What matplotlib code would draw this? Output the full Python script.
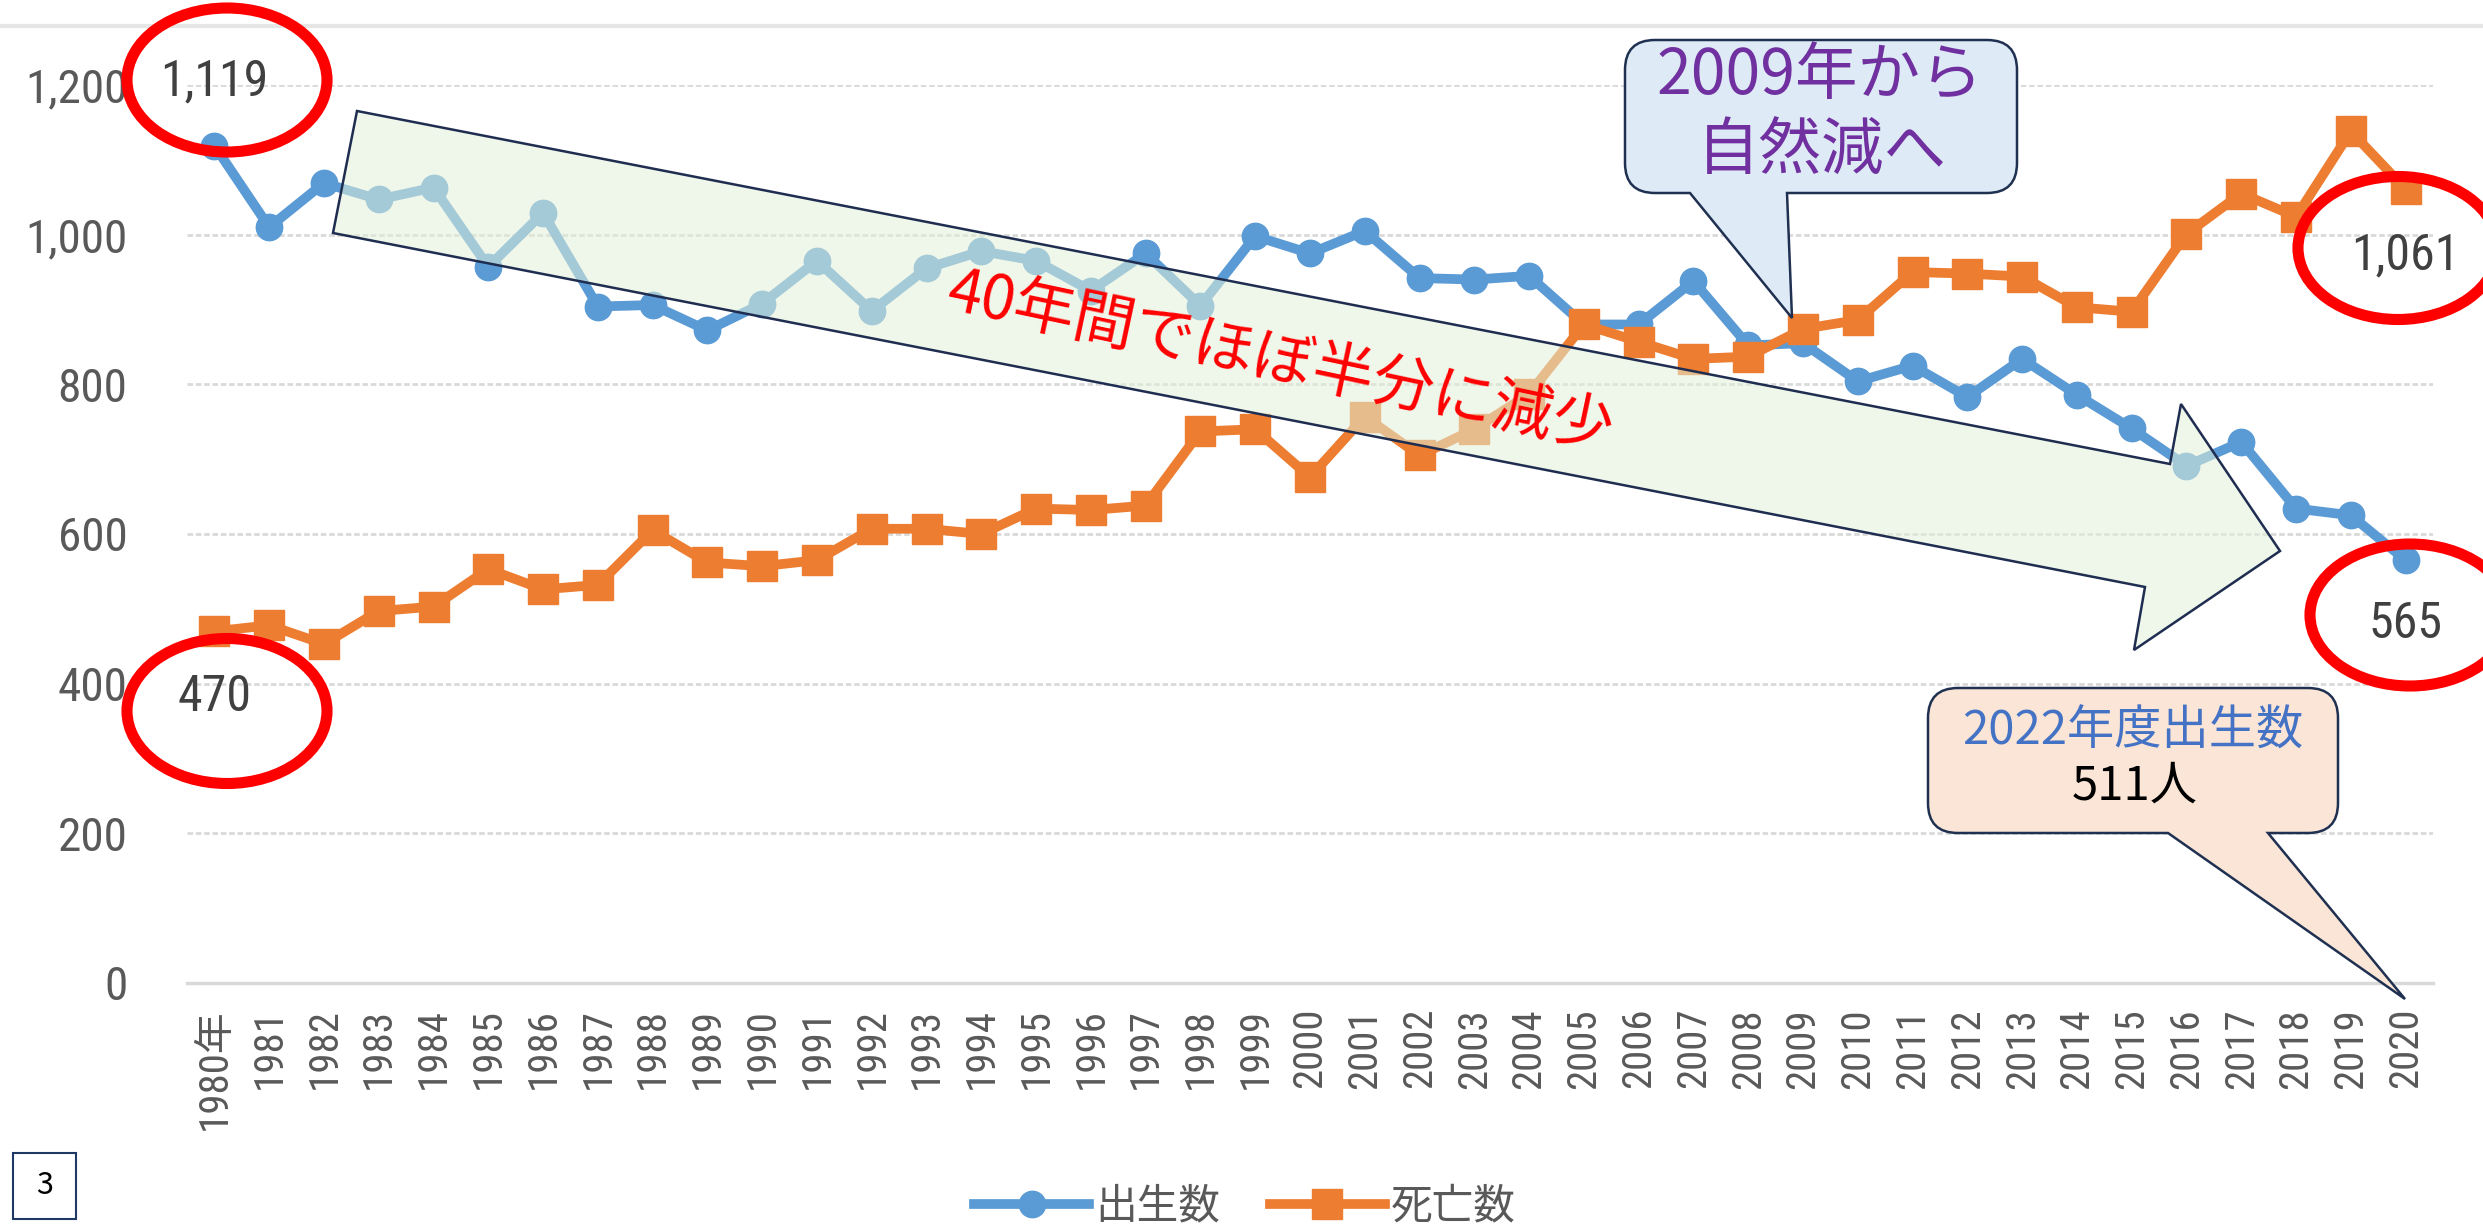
import numpy as np
import matplotlib
matplotlib.use('Agg')
import matplotlib.pyplot as plt
from matplotlib import font_manager
from matplotlib.patches import Ellipse, Polygon, PathPatch, Rectangle
from matplotlib.path import Path
from matplotlib.lines import Line2D
from matplotlib.colors import to_rgba

# データ(人)
years = list(range(1980, 2021))
births = [1119, 1010, 1069, 1047, 1063, 957, 1029, 904, 906, 872,
          908, 965, 898, 955, 978, 965, 925, 975, 905, 998,
          975, 1005, 942, 940, 945, 880, 880, 938, 852, 855,
          804, 825, 783, 834, 786, 741, 691, 723, 634, 625, 565]
deaths = [470, 478, 453, 497, 503, 553, 526, 532, 605, 562,
          557, 565, 607, 607, 600, 634, 632, 638, 737, 740,
          676, 757, 705, 740, 787, 880, 857, 834, 837, 874,
          886, 950, 948, 944, 903, 897, 1001, 1055, 1024, 1138, 1061]
xlabels = ['1980年'] + [str(y) for y in years[1:]]
yticks = [0, 200, 400, 600, 800, 1000, 1200]
series_names = ['出生数', '死亡数']

# 細めのフォントがあれば使う
narrow = None
for name in ['Liberation Sans Narrow', 'Roboto Condensed', 'Open Sans Condensed',
             'DejaVu Sans Condensed', 'Noto Sans Condensed']:
    try:
        font_manager.findfont(font_manager.FontProperties(family=name),
                              fallback_to_default=False)
        narrow = name
        break
    except ValueError:
        pass
stretch = 'normal'
if narrow is None:
    f = font_manager.findfont(font_manager.FontProperties(family='DejaVu Sans',
                                                          stretch='condensed'))
    narrow = 'DejaVu Sans'
    if 'Condensed' in f:
        stretch = 'condensed'
is_narrow = narrow != 'DejaVu Sans' or stretch == 'condensed'
k = 1.0 if is_narrow else 0.78
jp = 'Noto Sans CJK JP'

W, H = 2483, 1232
fig = plt.figure(figsize=(W / 100, H / 100), dpi=100)


def fp(x, y):
    # 画像ピクセル(左上原点) -> figure座標
    return (x / W, 1 - y / H)


ax = fig.add_axes([187 / W, 1 - 983 / H, (2433 - 187) / W, (983 - 85) / H])

blue = '#5B9BD5'
orange = '#ED7D31'
ax.plot(years, births, color=blue, lw=7, marker='o', ms=19, mec=blue,
        clip_on=False, zorder=3, label=series_names[0])
ax.plot(years, deaths, color=orange, lw=7, marker='s', ms=21, mec=orange,
        clip_on=False, zorder=4, label=series_names[1])

ax.set_xlim(1979.5, 2020.5)
ax.set_ylim(0, 1200)
ax.set_xticks(years)
ax.set_xticklabels(xlabels, rotation=90, fontsize=31 * k * 0.95, color='#595959',
                   family=[narrow, jp], fontstretch=stretch)
ax.set_yticks(yticks)
ax.set_yticklabels([f'{v:,}' for v in yticks], fontsize=34 * k, color='#595959',
                   family=[narrow], fontstretch=stretch)
ax.tick_params(axis='x', length=0, pad=18)
ax.tick_params(axis='y', length=0, pad=43)
ax.grid(axis='y', color='#D9D9D9', lw=2, ls=(0, (2, 1)))
ax.set_axisbelow(True)
for s in ['top', 'right', 'left']:
    ax.spines[s].set_visible(False)
ax.spines['bottom'].set_color('#D9D9D9')
ax.spines['bottom'].set_linewidth(2.5)

# データラベル
lbl = dict(textcoords='offset points', ha='center', va='center',
           fontsize=36 * k, color='#404040', family=narrow,
           fontstretch=stretch, zorder=6)
ax.annotate(f'{births[0]:,}', (years[0], births[0]), xytext=(0, 46), **lbl)
ax.annotate(f'{deaths[0]:,}', (years[0], deaths[0]), xytext=(0, -47), **lbl)
ax.annotate(f'{deaths[-1]:,}', (years[-1], deaths[-1]), xytext=(0, -48), **lbl)
ax.annotate(f'{births[-1]:,}', (years[-1], births[-1]), xytext=(0, -46), **lbl)

# 赤丸
for cx, cy, w, h in [(227, 80, 200, 144), (227, 711, 200, 145),
                     (2398, 248, 200, 143), (2410, 615, 200, 142)]:
    fig.add_artist(Ellipse(fp(cx, cy), w / W, h / H, transform=fig.transFigure,
                           fill=False, ec='#FF0000', lw=8, zorder=7))

# 大きな矢印
arrow_px = [(357, 111), (2170, 464), (2181, 404), (2280, 551),
            (2134, 650), (2145, 587), (333, 233)]
fig.add_artist(Polygon([fp(x, y) for x, y in arrow_px], closed=True,
                       transform=fig.transFigure, fc=to_rgba('#E2F0D9', 0.55),
                       ec='#1F2D50', lw=1.8, zorder=5))
fig.text(*fp(1280, 362), '40年間でほぼ半分に減少', rotation=-12,
         rotation_mode='anchor', ha='center', va='center', color='#FF0000',
         fontsize=44, family=jp, zorder=6)


def callout(x0, y0, x1, y1, r, b0, b1, tip, fc):
    pts = [(x0 + r, y0), (x1 - r, y0), (x1, y0), (x1, y0 + r),
           (x1, y1 - r), (x1, y1), (x1 - r, y1),
           (b1, y1), tip, (b0, y1),
           (x0 + r, y1), (x0, y1), (x0, y1 - r),
           (x0, y0 + r), (x0, y0), (x0 + r, y0), (x0 + r, y0)]
    codes = [Path.MOVETO, Path.LINETO, Path.CURVE3, Path.CURVE3,
             Path.LINETO, Path.CURVE3, Path.CURVE3,
             Path.LINETO, Path.LINETO, Path.LINETO,
             Path.LINETO, Path.CURVE3, Path.CURVE3,
             Path.LINETO, Path.CURVE3, Path.CURVE3, Path.CLOSEPOLY]
    path = Path([fp(x, y) for x, y in pts], codes)
    fig.add_artist(PathPatch(path, transform=fig.transFigure, fc=fc,
                             ec='#1F3050', lw=1.8, zorder=8))


callout(1625, 40, 2017, 193, 30, 1690, 1787, (1792, 318), '#DEEBF7')
fig.text(*fp(1820, 76), '2009年から', ha='center', va='center',
         color='#7030A0', fontsize=45, family=jp, zorder=9)
fig.text(*fp(1822, 152), '自然減へ', ha='center', va='center',
         color='#7030A0', fontsize=45, family=jp, zorder=9)

callout(1928, 688, 2338, 833, 30, 2168, 2268, (2405, 999), '#FBE5D6')
fig.text(*fp(2133, 731), '2022年度出生数', ha='center', va='center',
         color='#4472C4', fontsize=34, family=jp, zorder=9)
fig.text(*fp(2135, 786), '511人', ha='center', va='center',
         color='black', fontsize=34, family=jp, zorder=9)

# 上端の線、ページ番号
fig.add_artist(Line2D([0, 1], [1 - 26 / H] * 2, transform=fig.transFigure,
                      color='#E6E6E6', lw=3))
fig.add_artist(Rectangle(fp(13, 1219), 63 / W, 66 / H, transform=fig.transFigure,
                         fc='white', ec='#1F3864', lw=1.5))
fig.text(*fp(45, 1186), '3', ha='center', va='center', fontsize=22,
         family=jp, color='black')

fig.legend(loc='center', bbox_to_anchor=(0.5014, 0.0203), ncol=2,
           frameon=False, prop=font_manager.FontProperties(family=jp, size=30),
           handlelength=2.75, handletextpad=0.15, columnspacing=1.2,
           labelcolor='#595959')

fig.savefig('out.png', dpi=100)
